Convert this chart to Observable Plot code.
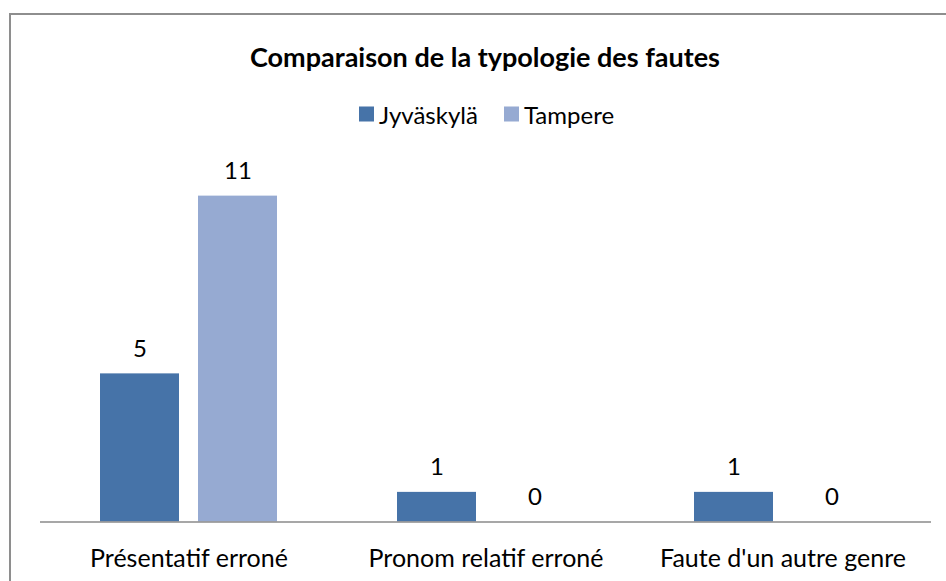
<!DOCTYPE html>
<html>
<head>
<meta charset="utf-8">
<script src="https://cdn.jsdelivr.net/npm/d3@7"></script>
<script src="https://cdn.jsdelivr.net/npm/@observablehq/plot@0.6"></script>
<style>
  html, body { margin: 0; padding: 0; background: #fff; overflow: hidden; }
  body { width: 946px; height: 581px; position: relative; font-family: Lato, "Noto Sans", sans-serif; color: #000; }
  #frame { position: absolute; left: 9px; top: 13px; width: 1200px; height: 1200px;
           border-top: 2px solid #8e8e8e; border-left: 2px solid #8e8e8e; box-sizing: border-box; }
  #title { position: absolute; left: 485px; top: 56px; transform: translate(-50%, -50%);
           font-weight: bold; font-size: 27px; white-space: nowrap; }
  #legend { position: absolute; left: 359px; top: 114px; transform: translate(0, -50%);
            font-size: 24px; white-space: nowrap; display: flex; align-items: center; }
  #legend .item { display: flex; align-items: center; }
  #legend .sw { width: 15px; height: 15px; margin-right: 5px; display: inline-block; }
  #legend .item + .item { margin-left: 26px; }
  #chart { position: absolute; left: 0; top: 140px; }
</style>
</head>
<body>
<div id="frame"></div>
<div id="title"></div>
<div id="legend"></div>
<div id="chart"></div>
<script>
const title = "Comparaison de la typologie des fautes";
const categories = ["Présentatif erroné", "Pronom relatif erroné", "Faute d'un autre genre"];
const series = ["Jyväskylä", "Tampere"];
const jyvaskyla = [5, 1, 1];
const tampere = [11, 0, 0];
const colors = ["#4673A8", "#96AAD2"];

const data = categories.flatMap((c, i) => [
  {category: c, series: series[0], value: jyvaskyla[i]},
  {category: c, series: series[1], value: tampere[i]}
]);

document.getElementById("title").textContent = title;
const legend = document.getElementById("legend");
series.forEach((s, i) => {
  const item = document.createElement("span");
  item.className = "item";
  const sw = document.createElement("span");
  sw.className = "sw";
  sw.style.background = colors[i];
  const lab = document.createElement("span");
  lab.textContent = s;
  item.appendChild(sw);
  item.appendChild(lab);
  legend.appendChild(item);
});

const chart = Plot.plot({
  width: 946,
  height: 441,
  marginLeft: 39,
  marginRight: 15,
  marginTop: 26,
  marginBottom: 59.5,
  fx: {domain: categories, padding: 0, label: null},
  x: {domain: series, axis: null, paddingInner: 0.194, paddingOuter: 0.612},
  y: {domain: [0, 12], axis: null},
  color: {domain: series, range: colors},
  style: {fontFamily: "Lato, 'Noto Sans', sans-serif", fontSize: "24px", color: "#000", background: "transparent", overflow: "visible"},
  marks: [
    Plot.barY(data, {fx: "category", x: "series", y: "value", fill: "series"}),
    Plot.ruleY([0], {stroke: "#8a8a8a", strokeWidth: 1.5}),
    Plot.text(data, {fx: "category", x: "series", y: "value", text: d => String(d.value), dy: -25, fontSize: 24, fill: "#000"}),
    Plot.axisFx({anchor: "bottom", tickSize: 0, tickPadding: 27, fontSize: 25, label: null, fill: "#000"})
  ]
});
document.getElementById("chart").appendChild(chart);
</script>
</body>
</html>
